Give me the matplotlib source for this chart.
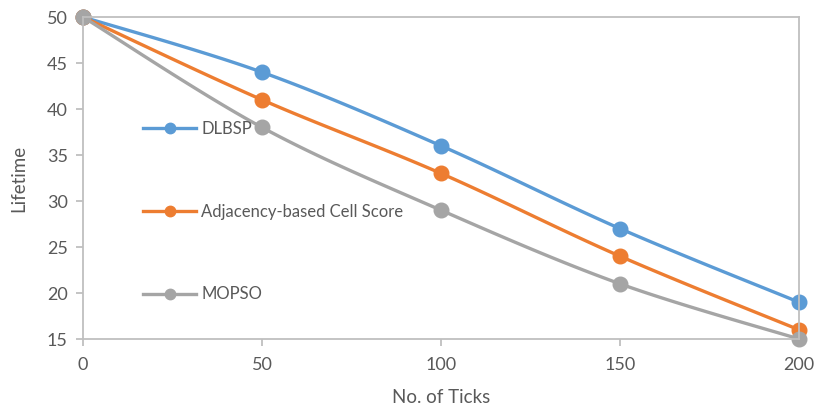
import matplotlib
matplotlib.use('Agg')
import matplotlib.pyplot as plt
from matplotlib.lines import Line2D
import numpy as np

ticks = [0, 50, 100, 150, 200]
dlbsp = [50, 44, 36, 27, 19]
adjacency = [50, 41, 33, 24, 16]
mopso = [50, 38, 29, 21, 15]

series = [
    ('DLBSP', dlbsp, '#5B9BD5'),
    ('Adjacency-based Cell Score', adjacency, '#ED7D31'),
    ('MOPSO', mopso, '#A5A5A5'),
]

text_color = '#595959'
grid_color = '#BFBFBF'


def smooth(xs, ys, n=30):
    # Bezier smoothing like a spreadsheet "smoothed line"
    xs = np.asarray(xs, float)
    ys = np.asarray(ys, float)
    px = np.concatenate([[xs[0]], xs, [xs[-1]]])
    py = np.concatenate([[ys[0]], ys, [ys[-1]]])
    out_x, out_y = [], []
    t = np.linspace(0, 1, n)
    for i in range(1, len(px) - 2):
        p0 = np.array([px[i], py[i]])
        p3 = np.array([px[i + 1], py[i + 1]])
        p1 = p0 + (np.array([px[i + 1], py[i + 1]]) - np.array([px[i - 1], py[i - 1]])) / 6
        p2 = p3 - (np.array([px[i + 2], py[i + 2]]) - np.array([px[i], py[i]])) / 6
        b = ((1 - t) ** 3)[:, None] * p0 + (3 * (1 - t) ** 2 * t)[:, None] * p1 \
            + (3 * (1 - t) * t ** 2)[:, None] * p2 + (t ** 3)[:, None] * p3
        out_x.extend(b[:, 0])
        out_y.extend(b[:, 1])
    return out_x, out_y


plt.rcParams['font.family'] = ['Lato', 'DejaVu Sans']

fig = plt.figure(figsize=(8.18, 4.12), dpi=100)
ax = fig.add_axes([83 / 818, 1 - 339 / 412, 716 / 818, 322 / 412])

handles = []
for name, vals, color in series:
    sx, sy = smooth(ticks, vals)
    ax.plot(sx, sy, color=color, linewidth=2.4, solid_capstyle='round', clip_on=False)
    ax.plot(ticks, vals, 'o', color=color, markersize=10.5, clip_on=False)
    handles.append(Line2D([], [], color=color, linewidth=2.4, marker='o', markersize=7.5, label=name))

ax.set_xlim(0, 200)
ax.set_ylim(15, 50)
ax.set_xticks(ticks)
ax.set_yticks(range(15, 51, 5))

for side in ['left', 'bottom', 'top', 'right']:
    ax.spines[side].set_color(grid_color)
    ax.spines[side].set_linewidth(1.3)

ax.tick_params(axis='both', colors=grid_color, labelcolor=text_color, labelsize=13,
               length=5, width=1.3, direction='out')
ax.tick_params(axis='x', pad=8)
ax.tick_params(axis='y', pad=6)

ax.set_xlabel('No. of Ticks', color=text_color, fontsize=13.5)
ax.xaxis.set_label_coords(0.5, -50 / 322)
ax.set_ylabel('Lifetime', color=text_color, fontsize=13.5)
ax.yaxis.set_label_coords(-56 / 716, 0.5)

ax.legend(handles=handles, loc='upper left', bbox_to_anchor=(60 / 716, 218 / 322),
          frameon=False, fontsize=12, labelcolor=text_color, handlelength=3.2,
          handletextpad=0.3, labelspacing=4.0, borderpad=0, borderaxespad=0)

fig.savefig('out.png', dpi=100)
